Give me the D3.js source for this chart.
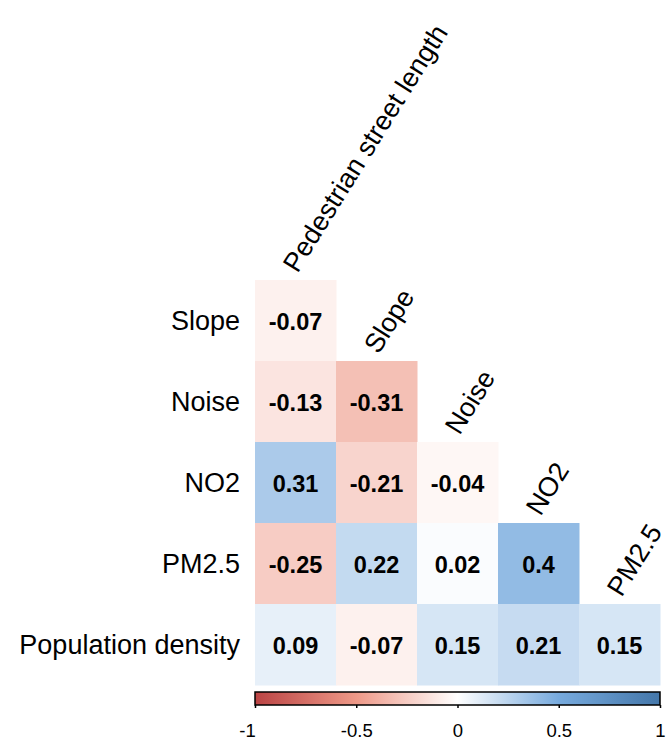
<!DOCTYPE html>
<html>
<head>
<meta charset="utf-8">
<script src="https://cdn.jsdelivr.net/npm/d3@7"></script>
<style>
  html, body { margin: 0; padding: 0; background: #fff; }
  svg { display: block; font-family: "Liberation Sans", Arial, sans-serif; }
</style>
</head>
<body>
<svg id="chart" width="668" height="740"></svg>
<script>
// ---- data ----
const columns = ["Pedestrian street length", "Slope", "Noise", "NO2", "PM2.5"];
const rows = ["Slope", "Noise", "NO2", "PM2.5", "Population density"];
const rowSlope = [-0.07];
const rowNoise = [-0.13, -0.31];
const rowNO2 = [0.31, -0.21, -0.04];
const rowPM25 = [-0.25, 0.22, 0.02, 0.4];
const rowPopDensity = [0.09, -0.07, 0.15, 0.21, 0.15];
const matrix = [rowSlope, rowNoise, rowNO2, rowPM25, rowPopDensity];
const legendTicks = [-1, -0.5, 0, 0.5, 1];
const paletteStops = [-1, -0.5, 0, 0.5, 1];
const paletteColors = ["#BB4444", "#EE9988", "#FFFFFF", "#77AADD", "#4477AA"];

// ---- layout ----
const svg = d3.select("#chart");
const x = d3.scaleBand().domain(columns).range([255, 660]).padding(0);
const y = d3.scaleBand().domain(rows).range([280, 685]).padding(0);
const color = d3.scaleLinear().domain(paletteStops).range(paletteColors).interpolate(d3.interpolateRgb);

const cells = [];
matrix.forEach((vals, i) => vals.forEach((v, j) => cells.push({row: rows[i], col: columns[j], v})));

// cells
svg.append("g").selectAll("rect").data(cells).join("rect")
  .attr("x", d => x(d.col))
  .attr("y", d => y(d.row))
  .attr("width", x.bandwidth() + 0.5)
  .attr("height", y.bandwidth() + 0.5)
  .attr("fill", d => color(d.v));

// cell values
svg.append("g").selectAll("text").data(cells).join("text")
  .attr("x", d => x(d.col) + x.bandwidth() / 2)
  .attr("y", d => y(d.row) + y.bandwidth() / 2 + 9)
  .attr("text-anchor", "middle")
  .attr("font-size", 23.5)
  .attr("font-weight", "bold")
  .attr("fill", "#000")
  .text(d => String(d.v));

// row labels
svg.append("g").selectAll("text").data(rows).join("text")
  .attr("x", 240)
  .attr("y", d => y(d) + y.bandwidth() / 2 + 9.5)
  .attr("text-anchor", "end")
  .attr("font-size", 27)
  .attr("fill", "#000")
  .text(d => d);

// column labels (rotated), placed above the first cell of each column
svg.append("g").selectAll("text").data(columns).join("text")
  .attr("transform", (d, j) => {
    const cx = x(d) + x.bandwidth() / 2 + 2;
    const cy = y(rows[j]) - 6;
    return `translate(${cx},${cy}) rotate(-58)`;
  })
  .attr("text-anchor", "start")
  .attr("font-size", 27)
  .attr("fill", "#000")
  .text(d => d);

// ---- colour bar ----
const lx = d3.scaleLinear().domain([-1, 1]).range([255, 660]);
const barTop = 692, barH = 13;
const defs = svg.append("defs");
const grad = defs.append("linearGradient").attr("id", "cbar")
  .attr("x1", "0%").attr("x2", "100%").attr("y1", "0%").attr("y2", "0%");
grad.selectAll("stop").data(d3.range(0, 1.0001, 0.05)).join("stop")
  .attr("offset", t => (t * 100) + "%")
  .attr("stop-color", t => color(-1 + 2 * t));

svg.append("rect")
  .attr("x", lx(-1)).attr("y", barTop)
  .attr("width", lx(1) - lx(-1)).attr("height", barH)
  .attr("fill", "url(#cbar)")
  .attr("stroke", "#000").attr("stroke-width", 1.5);

const axis = d3.axisBottom(lx).tickValues(legendTicks)
  .tickSize(3).tickPadding(16).tickFormat(d => String(d));
const ag = svg.append("g").attr("transform", `translate(0,${barTop + barH})`).call(axis);
ag.select(".domain").remove();
ag.selectAll(".tick line").attr("stroke", "#000").attr("stroke-width", 1.5);
ag.selectAll(".tick text")
  .attr("font-size", 18.5)
  .attr("font-family", "\"Liberation Sans\", Arial, sans-serif")
  .attr("fill", "#000")
  .attr("dx", d => d === -1 ? -8 : 0);
</script>
</body>
</html>
